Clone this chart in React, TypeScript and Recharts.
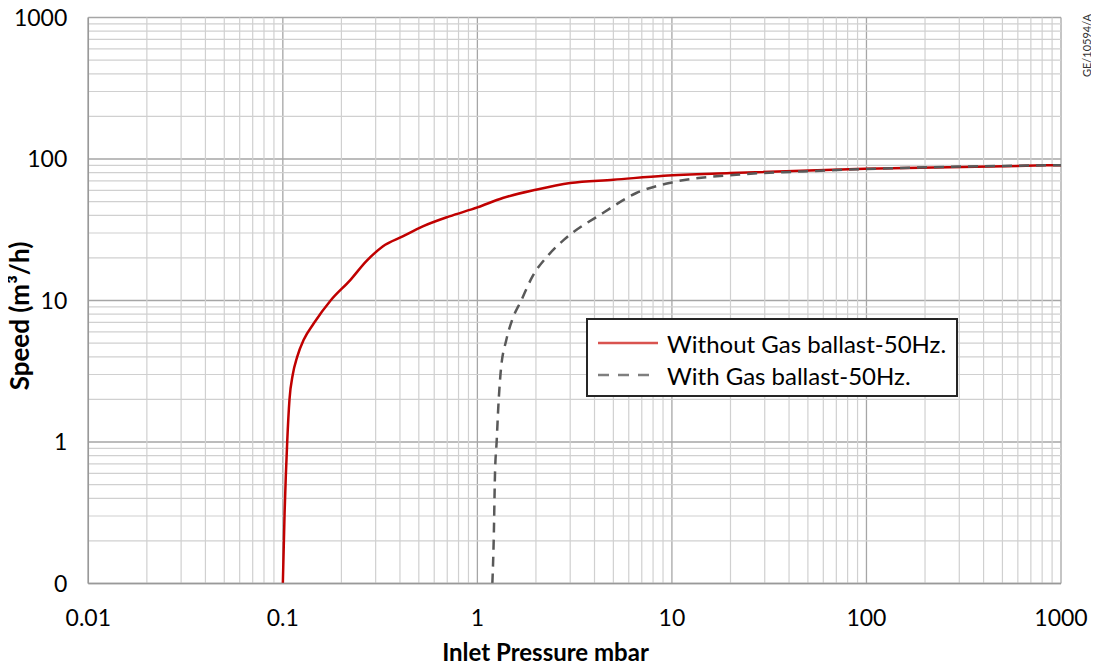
import React from 'react'
import {
  LineChart,
  Line,
  XAxis,
  YAxis,
  CartesianGrid,
  ReferenceLine,
  Legend,
  Label,
} from 'recharts'

// values (log-log)
const withoutBallast = [
  { x: 0.1, y: 0.1 },
  { x: 0.102, y: 0.3 },
  { x: 0.1053, y: 1 },
  { x: 0.1082, y: 2 },
  { x: 0.1125, y: 3 },
  { x: 0.1185, y: 4 },
  { x: 0.1282, y: 5.3 },
  { x: 0.1443, y: 6.9 },
  { x: 0.176, y: 10 },
  { x: 0.2227, y: 14 },
  { x: 0.268, y: 18.9 },
  { x: 0.326, y: 24.1 },
  { x: 0.413, y: 28.4 },
  { x: 0.524, y: 33.4 },
  { x: 0.718, y: 39.3 },
  { x: 1.0, y: 45.5 },
  { x: 1.35, y: 53 },
  { x: 2.0, y: 60.7 },
  { x: 3.0, y: 67.7 },
  { x: 5.0, y: 71.3 },
  { x: 9.1, y: 76.2 },
  { x: 20, y: 79.6 },
  { x: 98, y: 85.3 },
  { x: 1000, y: 90.5 },
]

const withBallast = [
  { x: 1.194, y: 0.1 },
  { x: 1.213, y: 0.2 },
  { x: 1.232, y: 0.6 },
  { x: 1.256, y: 1 },
  { x: 1.282, y: 1.8 },
  { x: 1.317, y: 3.1 },
  { x: 1.41, y: 5.3 },
  { x: 1.51, y: 7.3 },
  { x: 1.68, y: 10 },
  { x: 1.92, y: 14.8 },
  { x: 2.33, y: 21.1 },
  { x: 2.79, y: 26.9 },
  { x: 4.42, y: 41.5 },
  { x: 6.56, y: 57.5 },
  { x: 9.7, y: 67.7 },
  { x: 21.4, y: 77.4 },
  { x: 47, y: 81.7 },
  { x: 100, y: 85 },
  { x: 1000, y: 90.5 },
]

const xTicks = [0.01, 0.1, 1, 10, 100, 1000]
const yTicks = [0.1, 1, 10, 100, 1000]

const series = [
  { name: 'Without Gas ballast-50Hz.', data: withoutBallast, color: '#c00000', dash: undefined as string | undefined },
  { name: 'With Gas ballast-50Hz.', data: withBallast, color: '#595959', dash: '10 7' },
]

const minorsOf = (majors: number[]) =>
  majors.slice(0, -1).flatMap((d) => [2, 3, 4, 5, 6, 7, 8, 9].map((m) => +(m * d).toPrecision(3)))

const xMinor = minorsOf(xTicks)
const yMinor = minorsOf(yTicks)

const font = 'Lato, "Open Sans", sans-serif'

function LegendBox() {
  return (
    <div
      style={{
        border: '2px solid #262626',
        background: '#fff',
        width: 368,
        height: 75,
        boxSizing: 'content-box',
        fontFamily: font,
        fontSize: 24,
        color: '#000',
      }}
    >
      {series.map((s, i) => (
        <div key={s.name} style={{ display: 'flex', alignItems: 'center', height: 32, marginTop: i === 0 ? 7 : 0 }}>
          <svg width={79} height={10} style={{ flex: 'none' }}>
            <line
              x1={10}
              x2={70}
              y1={5}
              y2={5}
              stroke={s.dash ? '#7f7f7f' : '#d9534f'}
              strokeWidth={2.5}
              strokeDasharray={s.dash ? '11 9' : undefined}
            />
          </svg>
          <span style={{ whiteSpace: 'nowrap' }}>{s.name}</span>
        </div>
      ))}
    </div>
  )
}

export default function App() {
  // negative margin cancels the body margin so chart coords = page coords
  return (
    <div style={{ position: 'relative', width: 1099, height: 670, margin: -8 }}>
      <LineChart width={1099} height={670} margin={{ top: 17.5, right: 38, left: 0, bottom: 26.5 }}>
        <CartesianGrid stroke="#a6a6a6" strokeWidth={1.3} />
        {xMinor.map((v) => (
          <ReferenceLine key={'x' + v} x={v} stroke="#d0d0d0" strokeWidth={1.2} />
        ))}
        {yMinor.map((v) => (
          <ReferenceLine key={'y' + v} y={v} stroke="#d0d0d0" strokeWidth={1.2} />
        ))}
        <XAxis
          type="number"
          dataKey="x"
          scale="log"
          domain={[0.01, 1000]}
          ticks={xTicks}
          allowDataOverflow
          height={60}
          tickLine={false}
          tickSize={6}
          tickMargin={20}
          axisLine={{ stroke: '#999', strokeWidth: 1.5 }}
          tick={{ fill: '#000', fontSize: 23, fontFamily: font }}
          tickFormatter={(v: number) => String(v)}
        >
          <Label
            content={() => (
              <text x={545.5} y={661} textAnchor="middle" fontFamily={font} fontWeight="bold" fontSize={24} fill="#000">
                Inlet Pressure mbar
              </text>
            )}
          />
        </XAxis>
        <YAxis
          type="number"
          dataKey="y"
          scale="log"
          domain={[0.1, 1000]}
          ticks={yTicks}
          allowDataOverflow
          width={88.3}
          tickLine={false}
          tickSize={6}
          tickMargin={15}
          axisLine={{ stroke: '#999', strokeWidth: 1.5 }}
          tick={{ fill: '#000', fontSize: 23, fontFamily: font }}
          tickFormatter={(v: number) => (v < 1 ? '0' : String(v))}
        >
          <Label
            content={() => (
              <text
                x={19}
                y={316}
                transform="rotate(-90, 19, 316)"
                textAnchor="middle"
                dominantBaseline="central"
                fontFamily={font}
                fontWeight="bold"
                fontSize={26}
                fill="#000"
              >
                Speed (m³/h)
              </text>
            )}
          />
        </YAxis>
        {series.map((s) => (
          <Line
            key={s.name}
            name={s.name}
            data={s.data}
            dataKey="y"
            type="monotone"
            stroke={s.color}
            strokeWidth={2.5}
            strokeDasharray={s.dash}
            dot={false}
            activeDot={false}
            isAnimationActive={false}
          />
        ))}
        <Legend
          layout="vertical"
          align="center"
          verticalAlign="middle"
          content={() => <LegendBox />}
          wrapperStyle={{ left: 586, top: 318, width: 372 }}
        />
      </LineChart>
      <div
        style={{
          position: 'absolute',
          left: 1081,
          top: 12,
          width: 12,
          height: 66,
          display: 'flex',
          alignItems: 'center',
          justifyContent: 'center',
        }}
      >
        <span
          style={{
            transform: 'rotate(-90deg)',
            whiteSpace: 'nowrap',
            fontFamily: font,
            fontSize: 11,
            color: '#333',
          }}
        >
          GE/10594/A
        </span>
      </div>
    </div>
  )
}
